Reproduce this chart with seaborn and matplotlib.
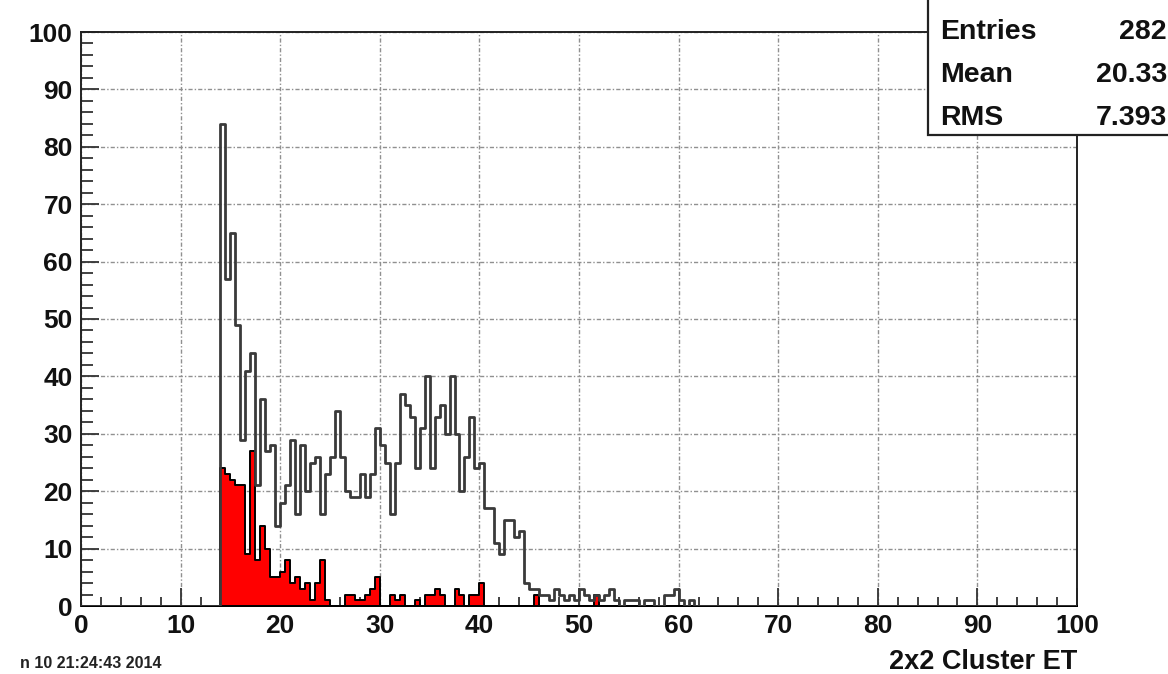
import numpy as np
import pandas as pd
import matplotlib
matplotlib.use("Agg")
import matplotlib.pyplot as plt
import seaborn as sns
from matplotlib.ticker import MultipleLocator
from matplotlib.patches import Rectangle

# ---- data (bins of width 0.5 starting at x = 14.0) ----
first_bin = 14.0
bin_width = 0.5
all_counts = [84, 57, 65, 49, 29, 41, 44, 21, 36, 27,
              28, 14, 18, 21, 29, 16, 28, 20, 25, 26,
              16, 23, 26, 34, 26, 20, 19, 19, 23, 19,
              23, 31, 28, 25, 16, 25, 37, 35, 33, 24,
              31, 40, 24, 33, 35, 30, 40, 30, 20, 26,
              33, 24, 25, 17, 17, 11, 9, 15, 15, 12,
              13, 4, 3, 3, 2, 2, 1, 3, 2, 1,
              2, 1, 3, 2, 1, 2, 1, 2, 3, 1,
              0, 1, 1, 1, 0, 1, 1, 0, 0, 2,
              2, 3, 1, 0, 1]
red_counts = [24, 23, 22, 21, 21, 9, 27, 8, 14, 10,
              5, 5, 6, 8, 4, 5, 3, 4, 1, 4,
              8, 1, 0, 0, 0, 2, 2, 1, 1, 2,
              3, 5, 0, 0, 2, 1, 2, 0, 0, 1,
              0, 2, 2, 3, 2, 0, 0, 3, 2, 0,
              2, 2, 4, 0, 0, 0, 0, 0, 0, 0,
              0, 0, 0, 2, 0, 0, 0, 0, 0, 0,
              0, 0, 0, 0, 0, 2]
stats_labels = ["Entries", "Mean", "RMS"]
stats_values = ["282", "20.33", "7.393"]
x_label = "2x2 Cluster ET"
timestamp = "n 10 21:24:43 2014"

# ---- build full histograms over 0..100 ----
n_bins = int(round(100 / bin_width))
centers = np.arange(n_bins) * bin_width + bin_width / 2
start = int(round(first_bin / bin_width))
w_all = np.zeros(n_bins)
w_all[start:start + len(all_counts)] = all_counts
w_red = np.zeros(n_bins)
w_red[start:start + len(red_counts)] = red_counts
df = pd.DataFrame({"x": centers, "all": w_all, "red": w_red})

FONT = "Liberation Sans"
W, H = 1168, 674
fig = plt.figure(figsize=(W / 100, H / 100), dpi=100)
fig.patch.set_facecolor("white")
ax = fig.add_axes([81 / W, 1 - 606 / H, (1077 - 81) / W, (606 - 32) / H])

sns.histplot(data=df, x="x", weights="red", bins=n_bins, binrange=(0, 100),
             element="step", fill=True, color="#ff0000", alpha=1.0,
             edgecolor="black", linewidth=1.4, ax=ax, zorder=3)
sns.histplot(data=df, x="x", weights="all", bins=n_bins, binrange=(0, 100),
             element="step", fill=False, color="#3a3a3a", linewidth=2.0,
             ax=ax, zorder=4)

ax.set_xlim(0, 100)
ax.set_ylim(0, 100)
ax.set_xlabel("")
ax.set_ylabel("")
ax.xaxis.set_major_locator(MultipleLocator(10))
ax.xaxis.set_minor_locator(MultipleLocator(2))
ax.yaxis.set_major_locator(MultipleLocator(10))
ax.yaxis.set_minor_locator(MultipleLocator(2))
ax.tick_params(axis="both", which="both", direction="in", top=False, right=False,
               color="#333333", width=1.3)
ax.tick_params(axis="x", which="major", length=13, pad=6)
ax.tick_params(axis="x", which="minor", length=6.5)
ax.tick_params(axis="y", which="major", length=13, pad=6)
ax.tick_params(axis="y", which="minor", length=8.5)
for lab in ax.get_xticklabels() + ax.get_yticklabels():
    lab.set_fontfamily(FONT)
    lab.set_fontweight("bold")
    lab.set_fontsize(19)
    lab.set_color("#111111")

ax.grid(True, which="major", color="#909090", linewidth=1.0,
        linestyle=(0, (3, 1.5, 1, 1.5)))
ax.set_axisbelow(True)
for s in ax.spines.values():
    s.set_color("#222222")
    s.set_linewidth(1.4)

# ---- stats box (extends beyond figure edge, as in reference) ----
box = Rectangle((928 / W, 1 - 135 / H), 0.4, 0.4, transform=fig.transFigure,
                facecolor="white", edgecolor="#222222", linewidth=1.6,
                clip_on=False, zorder=10)
fig.add_artist(box)
for i, (lab, val) in enumerate(zip(stats_labels, stats_values)):
    ypx = 32 + 43 * i
    fig.text(940 / W, 1 - ypx / H, lab, ha="left", va="center",
             fontfamily=FONT, fontweight="bold", fontsize=20.5, color="#111111",
             zorder=11)
    fig.text(1167 / W, 1 - ypx / H, val, ha="right", va="center",
             fontfamily=FONT, fontweight="bold", fontsize=20.5, color="#111111",
             zorder=11)

fig.text(1077 / W, 1 - 662 / H, x_label, ha="right", va="center",
         fontfamily=FONT, fontweight="bold", fontsize=19.5, color="#111111")
fig.text(20 / W, 1 - 664 / H, timestamp, ha="left", va="center",
         fontfamily=FONT, fontweight="bold", fontsize=11.5, color="#222222")

fig.savefig("out.png", dpi=100, facecolor="white")
